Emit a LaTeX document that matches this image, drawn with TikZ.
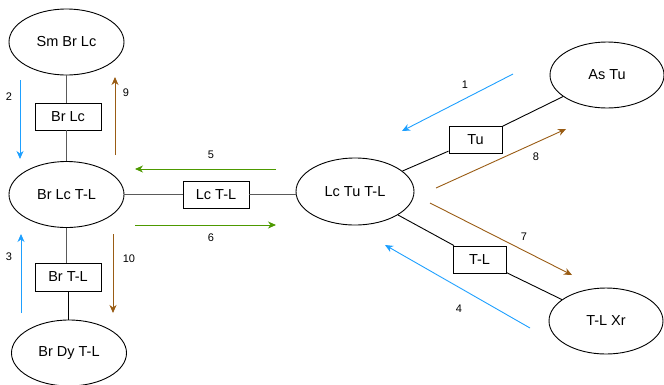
\documentclass[tikz,border=0pt]{standalone}
\usepackage{fontspec}
\setmainfont{Liberation Sans}
\usetikzlibrary{shapes.geometric,arrows.meta}
\definecolor{myblue}{RGB}{30,160,255}
\definecolor{mybrown}{RGB}{153,92,20}
\definecolor{mygreen}{RGB}{77,153,0}
\definecolor{mygray}{RGB}{90,90,90}
\tikzset{
  ell/.style={draw, ellipse, line width=0.9pt, inner sep=0pt, minimum width=115pt, minimum height=66pt, font=\fontsize{14.5}{16}\selectfont},
  lbox/.style={draw, rectangle, line width=0.9pt, inner sep=0pt, minimum height=27pt, font=\fontsize{14.5}{16}\selectfont},
  link/.style={line width=0.9pt},
  flow/.style={line width=0.9pt, -{Stealth[length=8pt,width=7pt,inset=2.5pt]}},
  num/.style={font=\fontsize{11}{12}\selectfont, inner sep=0pt},
}
\begin{document}
\begin{tikzpicture}[x=1pt,y=-1pt]
\useasboundingbox (0,0) rectangle (664,384);
% ellipses
\node[ell] (smbrlc) at (66.5,42) {Sm Br Lc};
\node[ell] (brlctl) at (66.5,194.5) {Br Lc T-L};
\node[ell] (brdytl) at (69,353) {Br Dy T-L};
\node[ell, minimum width=118pt, minimum height=67pt] (lctutl) at (355,191.5) {Lc Tu T-L};
\node[ell, minimum width=114pt] (astu) at (607,75) {As Tu};
\node[ell, minimum width=114pt] (tlxr) at (606,321) {T-L Xr};
% boxes
\node[lbox, minimum width=66pt] (bbrlc) at (68,116.5) {Br Lc};
\node[lbox, minimum width=66pt, minimum height=28pt] (bbrtl) at (68,277) {Br T-L};
\node[lbox, minimum width=66pt] (blctl) at (216,194.5) {Lc T-L};
\node[lbox, minimum width=53pt] (btu) at (475.5,139.5) {Tu};
\node[lbox, minimum width=53pt] (btl) at (479.5,259.5) {T-L};
% links
\draw[link, mygray] (smbrlc.south) -- (smbrlc.south |- bbrlc.north);
\draw[link, mygray] (smbrlc.south |- bbrlc.south) -- (brlctl.north);
\draw[link, mygray] (brlctl.south) -- (brlctl.south |- bbrtl.north);
\draw[link, black] (bbrtl.south) -- (bbrtl.south |- brdytl.north);
\draw[link, mygray] (brlctl.east) -- (brlctl.east -| blctl.west);
\draw[link, mygray] (blctl.east) -- (blctl.east -| lctutl.west);
\draw[link] (lctutl) -- (btu);
\draw[link] (btu) -- (astu);
\draw[link] (lctutl) -- (btl);
\draw[link] (btl) -- (tlxr);
% flow arrows
\coordinate (a2s) at (20,80);   \coordinate (a2e) at (20,159);
\coordinate (a9s) at (115,155); \coordinate (a9e) at (115,77);
\coordinate (a3s) at (21,313);  \coordinate (a3e) at (21,234);
\coordinate (a10s) at (113,234);\coordinate (a10e) at (113,313);
\coordinate (a5s) at (276,169); \coordinate (a5e) at (135,169);
\coordinate (a6s) at (135,225); \coordinate (a6e) at (276,225);
\coordinate (a1s) at (513,74);  \coordinate (a1e) at (402,131);
\coordinate (a8s) at (436,188); \coordinate (a8e) at (566,129);
\coordinate (a7s) at (430,203); \coordinate (a7e) at (572,275);
\coordinate (a4s) at (530,328); \coordinate (a4e) at (385,245);
\draw[flow, myblue] (a2s) -- (a2e);
\draw[flow, mybrown] (a9s) -- (a9e);
\draw[flow, myblue] (a3s) -- (a3e);
\draw[flow, mybrown] (a10s) -- (a10e);
\draw[flow, mygreen] (a5s) -- (a5e);
\draw[flow, mygreen] (a6s) -- (a6e);
\draw[flow, myblue] (a1s) -- (a1e);
\draw[flow, mybrown] (a8s) -- (a8e);
\draw[flow, mybrown] (a7s) -- (a7e);
\draw[flow, myblue] (a4s) -- (a4e);
% labels
\node[num] (n2) at (9,97) {2};
\node[num] (n9) at (126,93) {9};
\node[num] (n3) at (9,257) {3};
\node[num] (n10) at (129,259) {10};
\node[num] (n5) at (211,155) {5};
\node[num] (n6) at (211,238) {6};
\node[num] (n1) at (465,85) {1};
\node[num] (n8) at (536,157) {8};
\node[num] (n7) at (524,237) {7};
\node[num] (n4) at (459,309) {4};
\end{tikzpicture}
\end{document}
